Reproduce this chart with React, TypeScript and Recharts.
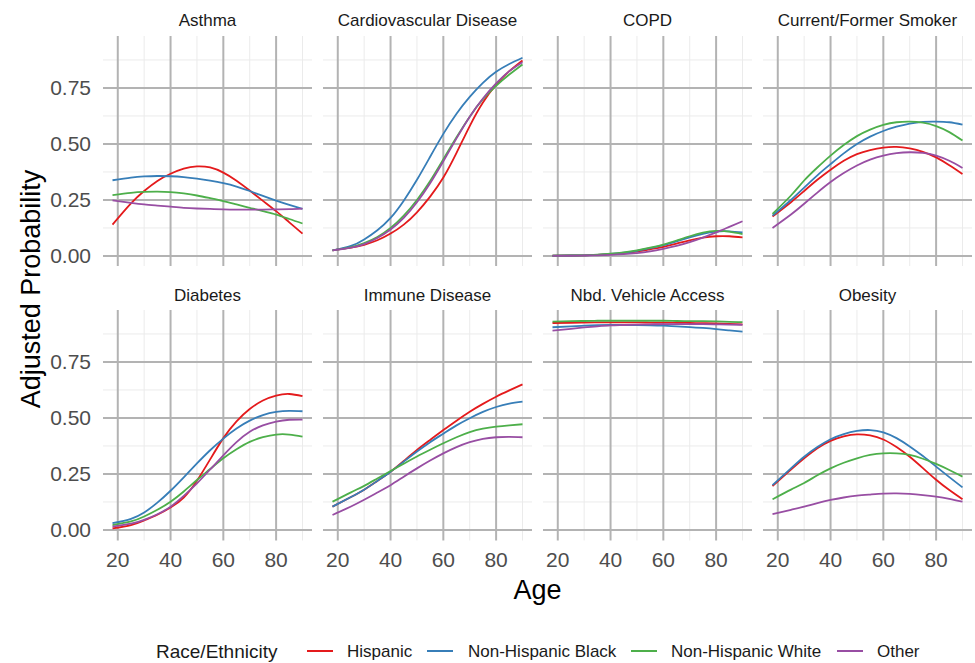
import React from 'react';
import { LineChart, Line, XAxis, YAxis, CartesianGrid } from 'recharts';

// ---------- data ----------
const AGES = [18, 25, 30, 35, 40, 45, 50, 55, 60, 65, 70, 75, 80, 85, 90];
const SERIES = ['Hispanic', 'Non-Hispanic Black', 'Non-Hispanic White', 'Other'];
const COLORS = ['#E41A1C', '#377EB8', '#4DAF4A', '#984EA3'];
const PANEL_TITLES = [
  'Asthma', 'Cardiovascular Disease', 'COPD', 'Current/Former Smoker',
  'Diabetes', 'Immune Disease', 'Nbd. Vehicle Access', 'Obesity',
];
const X_TICKS = [20, 40, 60, 80];
const X_MINOR = [30, 50, 70, 90];
const Y_TICKS = [0, 0.25, 0.5, 0.75];
const Y_MINOR = [0.125, 0.375, 0.625, 0.875];

const asthmaHispanic = [0.14, 0.235, 0.29, 0.335, 0.367, 0.39, 0.4, 0.395, 0.372, 0.336, 0.292, 0.246, 0.2, 0.15, 0.1];
const asthmaBlack = [0.338, 0.35, 0.355, 0.357, 0.356, 0.352, 0.345, 0.336, 0.325, 0.31, 0.29, 0.268, 0.247, 0.228, 0.21];
const asthmaWhite = [0.272, 0.282, 0.286, 0.287, 0.285, 0.279, 0.27, 0.258, 0.245, 0.23, 0.215, 0.2, 0.185, 0.165, 0.145];
const asthmaOther = [0.248, 0.237, 0.23, 0.225, 0.22, 0.215, 0.212, 0.21, 0.208, 0.207, 0.207, 0.207, 0.208, 0.209, 0.211];

const cardioHispanic = [0.025, 0.037, 0.05, 0.07, 0.1, 0.14, 0.195, 0.265, 0.35, 0.46, 0.58, 0.685, 0.765, 0.825, 0.873];
const cardioBlack = [0.025, 0.045, 0.074, 0.115, 0.17, 0.247, 0.34, 0.443, 0.545, 0.635, 0.71, 0.773, 0.822, 0.857, 0.885];
const cardioWhite = [0.025, 0.04, 0.058, 0.085, 0.125, 0.18, 0.25, 0.335, 0.432, 0.53, 0.622, 0.7, 0.76, 0.81, 0.855];
const cardioOther = [0.025, 0.037, 0.053, 0.08, 0.118, 0.17, 0.24, 0.325, 0.423, 0.525, 0.622, 0.703, 0.77, 0.825, 0.865];

const copdHispanic = [0.001, 0.002, 0.003, 0.005, 0.008, 0.013, 0.02, 0.03, 0.041, 0.055, 0.07, 0.082, 0.088, 0.088, 0.083];
const copdBlack = [0.001, 0.002, 0.003, 0.005, 0.009, 0.015, 0.023, 0.035, 0.048, 0.065, 0.083, 0.099, 0.109, 0.11, 0.105];
const copdWhite = [0.001, 0.002, 0.003, 0.006, 0.01, 0.016, 0.025, 0.037, 0.051, 0.069, 0.088, 0.104, 0.112, 0.109, 0.098];
const copdOther = [0.0005, 0.001, 0.002, 0.003, 0.005, 0.008, 0.013, 0.021, 0.032, 0.045, 0.062, 0.082, 0.105, 0.13, 0.155];

const smokerHispanic = [0.176, 0.24, 0.29, 0.34, 0.385, 0.425, 0.455, 0.473, 0.484, 0.487, 0.48, 0.465, 0.44, 0.405, 0.366];
const smokerBlack = [0.18, 0.25, 0.305, 0.36, 0.41, 0.458, 0.5, 0.533, 0.558, 0.577, 0.591, 0.599, 0.6, 0.597, 0.586];
const smokerWhite = [0.188, 0.27, 0.337, 0.395, 0.448, 0.495, 0.535, 0.564, 0.585, 0.597, 0.6, 0.595, 0.58, 0.553, 0.515];
const smokerOther = [0.125, 0.185, 0.233, 0.283, 0.33, 0.37, 0.404, 0.43, 0.448, 0.459, 0.463, 0.46, 0.448, 0.425, 0.393];

const diabetesHispanic = [0.007, 0.022, 0.043, 0.068, 0.1, 0.145, 0.22, 0.315, 0.41, 0.485, 0.54, 0.578, 0.6, 0.607, 0.597];
const diabetesBlack = [0.03, 0.05, 0.078, 0.122, 0.175, 0.235, 0.297, 0.356, 0.408, 0.453, 0.488, 0.513, 0.527, 0.532, 0.53];
const diabetesWhite = [0.022, 0.038, 0.06, 0.09, 0.126, 0.172, 0.223, 0.272, 0.32, 0.36, 0.393, 0.414, 0.426, 0.426, 0.417];
const diabetesOther = [0.015, 0.028, 0.045, 0.07, 0.104, 0.152, 0.208, 0.27, 0.333, 0.392, 0.438, 0.467, 0.484, 0.492, 0.493];

const immuneHispanic = [0.104, 0.147, 0.18, 0.219, 0.26, 0.308, 0.357, 0.402, 0.446, 0.488, 0.528, 0.563, 0.595, 0.623, 0.65];
const immuneBlack = [0.104, 0.147, 0.18, 0.219, 0.26, 0.305, 0.35, 0.392, 0.43, 0.467, 0.499, 0.527, 0.549, 0.564, 0.573];
const immuneWhite = [0.126, 0.168, 0.197, 0.23, 0.263, 0.296, 0.328, 0.358, 0.387, 0.414, 0.437, 0.452, 0.461, 0.467, 0.472];
const immuneOther = [0.067, 0.105, 0.135, 0.167, 0.2, 0.238, 0.275, 0.31, 0.342, 0.37, 0.392, 0.407, 0.414, 0.416, 0.414];

const vehicleHispanic = [0.924, 0.925, 0.926, 0.927, 0.927, 0.927, 0.927, 0.926, 0.926, 0.925, 0.924, 0.923, 0.922, 0.92, 0.918];
const vehicleBlack = [0.905, 0.909, 0.912, 0.914, 0.915, 0.915, 0.915, 0.914, 0.912, 0.909, 0.906, 0.902, 0.897, 0.891, 0.885];
const vehicleWhite = [0.93, 0.932, 0.933, 0.934, 0.934, 0.934, 0.934, 0.934, 0.934, 0.933, 0.932, 0.932, 0.931, 0.929, 0.928];
const vehicleOther = [0.89, 0.898, 0.904, 0.909, 0.913, 0.915, 0.917, 0.918, 0.919, 0.919, 0.919, 0.919, 0.918, 0.917, 0.916];

const obesityHispanic = [0.196, 0.27, 0.32, 0.365, 0.398, 0.418, 0.427, 0.422, 0.404, 0.37, 0.327, 0.276, 0.224, 0.178, 0.137];
const obesityBlack = [0.2, 0.275, 0.327, 0.37, 0.405, 0.428, 0.442, 0.446, 0.436, 0.41, 0.373, 0.33, 0.283, 0.236, 0.19];
const obesityWhite = [0.137, 0.18, 0.21, 0.244, 0.275, 0.3, 0.32, 0.335, 0.342, 0.342, 0.335, 0.318, 0.295, 0.268, 0.238];
const obesityOther = [0.071, 0.09, 0.104, 0.12, 0.134, 0.145, 0.153, 0.158, 0.162, 0.163, 0.161, 0.156, 0.149, 0.139, 0.126];

const PANEL_SERIES = [
  [asthmaHispanic, asthmaBlack, asthmaWhite, asthmaOther],
  [cardioHispanic, cardioBlack, cardioWhite, cardioOther],
  [copdHispanic, copdBlack, copdWhite, copdOther],
  [smokerHispanic, smokerBlack, smokerWhite, smokerOther],
  [diabetesHispanic, diabetesBlack, diabetesWhite, diabetesOther],
  [immuneHispanic, immuneBlack, immuneWhite, immuneOther],
  [vehicleHispanic, vehicleBlack, vehicleWhite, vehicleOther],
  [obesityHispanic, obesityBlack, obesityWhite, obesityOther],
];

// ---------- layout ----------
const FONT = '"Liberation Sans", Arial, Helvetica, sans-serif';
const COL_LEFT = [103, 323, 543, 763];
const ROW_TOP = [35.7, 310];
const PANEL_W = 209;
const PANEL_H = 230.5;
const Y_AXIS_W = 103;
const X_AXIS_H = 40;
const X_DOMAIN = [14.4, 93.6];
const Y_DOMAIN = [-0.047, 0.982];

function buildRows(seriesArrays: number[][]) {
  return AGES.map((age, i) => {
    const row: Record<string, number> = { age };
    SERIES.forEach((s, k) => {
      row[s] = seriesArrays[k][i];
    });
    return row;
  });
}

function Panel({ index }: { index: number }) {
  const col = index % 4;
  const row = Math.floor(index / 4);
  const showY = col === 0;
  const showX = row === 1;
  const width = PANEL_W + (showY ? Y_AXIS_W : 0);
  const height = PANEL_H + (showX ? X_AXIS_H : 0);
  const left = COL_LEFT[col] - (showY ? Y_AXIS_W : 0);
  const top = ROW_TOP[row];
  const data = buildRows(PANEL_SERIES[index]);
  return (
    <div style={{ position: 'absolute', left, top, width, height }}>
      <LineChart width={width} height={height} data={data} margin={{ top: 0, right: 0, bottom: 0, left: 0 }}>
        <CartesianGrid stroke="#ebebeb" strokeWidth={1} horizontalValues={Y_MINOR} verticalValues={X_MINOR} />
        <CartesianGrid stroke="#b3b3b3" strokeWidth={2} horizontalValues={Y_TICKS} verticalValues={X_TICKS} />
        <XAxis
          type="number"
          dataKey="age"
          domain={X_DOMAIN}
          allowDataOverflow
          ticks={X_TICKS}
          hide={!showX}
          height={X_AXIS_H}
          axisLine={false}
          tickLine={false}
          tickSize={0}
          tickMargin={12}
          tick={{ fill: '#4d4d4d', fontSize: 21, fontFamily: FONT }}
          interval={0}
        />
        <YAxis
          type="number"
          domain={Y_DOMAIN}
          allowDataOverflow
          ticks={Y_TICKS}
          hide={!showY}
          width={Y_AXIS_W}
          axisLine={false}
          tickLine={false}
          tickSize={0}
          tickMargin={12}
          tickFormatter={(v: number) => v.toFixed(2)}
          tick={{ fill: '#4d4d4d', fontSize: 21, fontFamily: FONT }}
          interval={0}
        />
        {SERIES.map((s, k) => (
          <Line
            key={s}
            type="natural"
            dataKey={s}
            stroke={COLORS[k]}
            strokeWidth={1.8}
            dot={false}
            activeDot={false}
            isAnimationActive={false}
          />
        ))}
      </LineChart>
    </div>
  );
}

const LEGEND_LINE_X = [307, 427, 631, 837];
const LEGEND_LABEL_X = [347, 468, 671, 877];

export default function App() {
  return (
    <div style={{ position: 'absolute', left: 0, top: 0, width: 975, height: 663, background: '#ffffff', overflow: 'hidden' }}>
      {PANEL_TITLES.map((_, i) => (
        <Panel key={i} index={i} />
      ))}
      <svg width={975} height={663} style={{ position: 'absolute', left: 0, top: 0, pointerEvents: 'none' }}>
        {PANEL_TITLES.map((t, i) => {
          const col = i % 4;
          const row = Math.floor(i / 4);
          return (
            <text
              key={t}
              x={COL_LEFT[col] + PANEL_W / 2}
              y={row === 0 ? 20 : 295}
              textAnchor="middle"
              dominantBaseline="central"
              fontFamily={FONT}
              fontSize={17}
              fill="#1a1a1a"
            >
              {t}
            </text>
          );
        })}
        <text x={537.5} y={590} textAnchor="middle" dominantBaseline="central" fontFamily={FONT} fontSize={27} fill="#000">
          Age
        </text>
        <text
          x={31}
          y={289}
          textAnchor="middle"
          dominantBaseline="central"
          fontFamily={FONT}
          fontSize={27}
          fill="#000"
          transform="rotate(-90 31 289)"
        >
          Adjusted Probability
        </text>
        <text x={156} y={651} dominantBaseline="central" fontFamily={FONT} fontSize={19} fill="#1a1a1a">
          Race/Ethnicity
        </text>
        {SERIES.map((s, k) => (
          <g key={s}>
            <line x1={LEGEND_LINE_X[k]} x2={LEGEND_LINE_X[k] + 26} y1={651} y2={651} stroke={COLORS[k]} strokeWidth={2} />
            <text x={LEGEND_LABEL_X[k]} y={651} dominantBaseline="central" fontFamily={FONT} fontSize={17} fill="#1a1a1a">
              {s}
            </text>
          </g>
        ))}
      </svg>
    </div>
  );
}
